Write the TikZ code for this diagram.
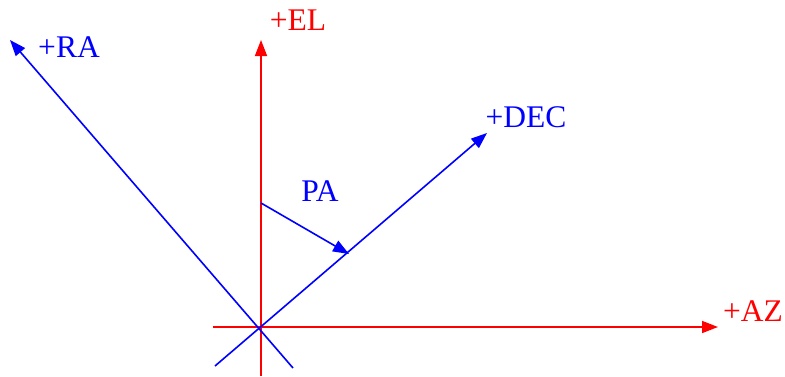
\documentclass[tikz,border=0pt]{standalone}
\usepackage{fontspec}
\setmainfont{Liberation Serif}
\usetikzlibrary{arrows.meta}
\begin{document}
\begin{tikzpicture}[x=1pt,y=-1pt,
  axis/.style={line width=1.6pt,-{Triangle[length=16pt,width=12pt]}},
  lbl/.style={inner sep=0pt,font=\fontsize{31.5}{31.5}\selectfont}]
\useasboundingbox (0,0) rectangle (785,376);
% coordinates
\coordinate (O) at (261,327);
\coordinate (elbot) at (261,376);
\coordinate (eltip) at (261,40);
\coordinate (azleft) at (213,327);
\coordinate (aztip) at (718,327);
\coordinate (rabot) at (293,368);
\coordinate (ratip) at (10,40);
\coordinate (decbot) at (215,366);
\coordinate (dectip) at (487,133);
\coordinate (pastart) at (261,203);
\coordinate (patip) at (349,254);
% red axes
\draw[axis,red] (elbot) -- (eltip);
\draw[axis,red] (azleft) -- (aztip);
% blue axes
\draw[axis,blue] (rabot) -- (ratip);
\draw[axis,blue] (decbot) -- (dectip);
\draw[axis,blue] (pastart) -- (patip);
% labels
\node[lbl,red] (EL) at (298,20) {+EL};
\node[lbl,red] (AZ) at (753,311) {+AZ};
\node[lbl,blue] (RA) at (69,47) {+RA};
\node[lbl,blue] (DEC) at (526,117) {+DEC};
\node[lbl,blue] (PA) at (320,191) {PA};
\end{tikzpicture}
\end{document}
